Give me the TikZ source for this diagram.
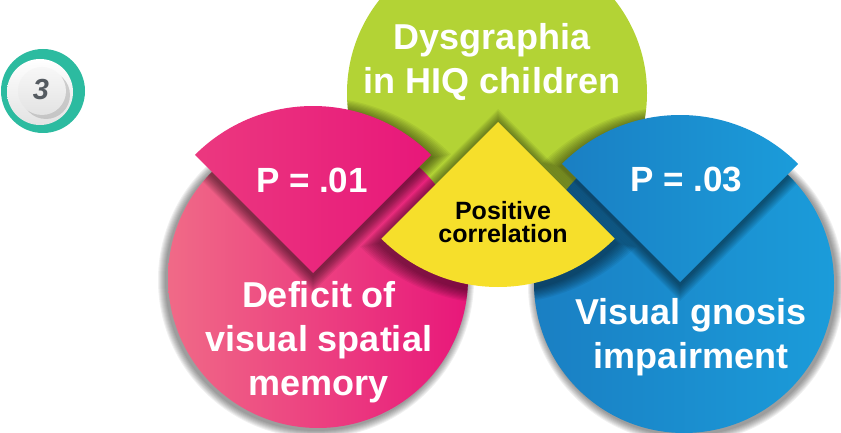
\documentclass[tikz,border=0pt]{standalone}
\usepackage{fontspec}
\setmainfont{Liberation Sans}
\usetikzlibrary{calc}

\definecolor{verde}{HTML}{B3D335}
\definecolor{rosa}{HTML}{E8177A}
\definecolor{rosaclaro}{HTML}{F06A87}
\definecolor{azul}{HTML}{1B9CDA}
\definecolor{azulosc}{HTML}{1A7FC3}
\definecolor{amarillo}{HTML}{F6DF2B}
\definecolor{turquesa}{HTML}{2CBBA0}
\definecolor{grisnum}{HTML}{555B61}

\begin{document}
\begin{tikzpicture}[x=1pt, y=1pt,
        rotulo/.style={text=white, font=\bfseries\fontsize{36}{44}\selectfont, align=center, inner sep=0pt},
        pvalor/.style={text=white, font=\bfseries\fontsize{35}{35}\selectfont, inner sep=0pt, anchor=base},
        sombra/.style={black, opacity=0.055}]
            % Parámetros: radio de los círculos y de los sectores
            \def\rc{150}   % radio de los círculos
            \def\rs{167}   % radio de los sectores

            % Marco del dibujo
            \useasboundingbox (0,0) rectangle (841,432);

            % Centros de los círculos y vértices de los sectores
            \coordinate (cV) at (497,339);
            \coordinate (cR) at (318,154);
            \coordinate (cA) at (684,149);
            \coordinate (vR) at (313,159);
            \coordinate (vA) at (680,150);
            \coordinate (vY) at (498,310);
            \coordinate (cI) at (43,341);

            % Sombras difusas de los círculos rosa y azul
            \foreach \k in {1,...,8} {
                \fill[sombra, opacity=0.06] ($(cR)+(-2,-2)$) circle [radius={\rc+\k}];
                \fill[sombra, opacity=0.06] ($(cA)+(2,-2)$) circle [radius={\rc+\k}];
            }

            % Círculo verde (arriba)
            \fill[verde] (cV) circle [radius=\rc];

            % Círculos rosa y azul (abajo)
            \shade[left color=rosaclaro, right color=rosa] (cR) circle [radius=\rc];
            \shade[left color=azulosc, right color=azul] (cA) circle [radius=\rc];

            % Sombras de los sectores, solo dentro de los círculos
            \begin{scope}
                \clip (cV) circle [radius=\rc] (cR) circle [radius=\rc] (cA) circle [radius=\rc];
                \foreach \k in {1,...,10} {
                    \fill[sombra] ($(vR)+(0,-1.6*\k-3)$) -- ++(45:{\rs+2.8*\k}) arc [start angle=45, end angle=135, radius={\rs+2.8*\k}] -- cycle;
                    \fill[sombra] ($(vA)+(0,-1.6*\k-3)$) -- ++(45:{\rs+2.8*\k}) arc [start angle=45, end angle=135, radius={\rs+2.8*\k}] -- cycle;
                    \fill[sombra] ($(vY)+(0,1.6*\k-3)$) -- ++(225:{\rs+2.8*\k}) arc [start angle=225, end angle=315, radius={\rs+2.8*\k}] -- cycle;
                }
            \end{scope}

            % Sectores rosa y azul (valores P)
            \shade[left color=rosa!60!rosaclaro, right color=rosa] (vR) -- ++(45:\rs) arc [start angle=45, end angle=135, radius=\rs] -- cycle;
            \shade[left color=azulosc, right color=azul] (vA) -- ++(45:\rs) arc [start angle=45, end angle=135, radius=\rs] -- cycle;

            % Sector amarillo (correlación)
            \fill[amarillo] (vY) -- ++(225:165) arc [start angle=225, end angle=315, radius=165] -- cycle;

            % Textos
            \node[rotulo] (disgrafia) at (492,370) {Dysgraphia\\in HIQ children};
            \node[rotulo] (memoria) at (319,90) {Deficit of\\visual spatial\\memory};
            \node[rotulo] (gnosia) at (691,95) {Visual gnosis\\impairment};
            \node[pvalor] (pR) at (312,240) {P = .01};
            \node[pvalor] (pA) at (686,241) {P = .03};
            \node[font=\bfseries\fontsize{25}{23}\selectfont, align=center, inner sep=0pt] (correl) at (503,210) {Positive\\correlation};

            % Insignia con el número 3
            \fill[turquesa] (cI) circle [radius=42];
            \shade[top color=white, bottom color=gray!22] ($(cI)+(-3,-1)$) circle [radius=33];
            \fill[gray!70, opacity=0.5] ($(cI)+(3,-4)$) circle [radius=24];
            \shade[top color=gray!6, bottom color=gray!22] ($(cI)+(-1,0)$) circle [radius=24];
            \node[text=grisnum, font=\bfseries\itshape\fontsize{29}{29}\selectfont, inner sep=0pt] (numero) at ($(cI)+(-2,1)$) {3};
\end{tikzpicture}
\end{document}
